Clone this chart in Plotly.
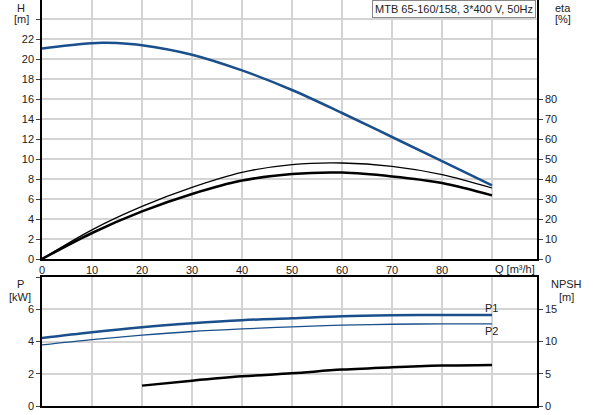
import plotly.graph_objects as go

# leituras da curva (Q em m3/h)
q = [0, 10, 20, 30, 40, 50, 60, 70, 80, 90]
q_h = [0, 5, 10, 12, 15, 20, 30, 40, 50, 60, 70, 80, 90]
h = [21.05, 21.35, 21.58, 21.62, 21.6, 21.38, 20.43, 18.86, 16.9, 14.6, 12.2, 9.78, 7.36]
eta1 = [0, 14.6, 26.3, 35.8, 43.3, 47.2, 48.0, 46.3, 42.2, 35.5]
eta2 = [0, 13.0, 23.8, 32.5, 39.2, 42.5, 43.2, 41.3, 38.0, 31.8]
p1 = [4.22, 4.58, 4.89, 5.13, 5.32, 5.44, 5.57, 5.63, 5.65, 5.65]
p2 = [3.79, 4.12, 4.39, 4.62, 4.78, 4.91, 5.01, 5.07, 5.09, 5.09]
q_npsh = [20, 30, 40, 50, 60, 70, 80, 90]
npsh = [3.16, 3.93, 4.6, 5.07, 5.64, 6.0, 6.26, 6.37]

blue = "#1a4f8b"
fonte = dict(family="Liberation Sans, Arial", size=11, color="#222")


def linha(x, y, cor, w, xa, ya):
    return go.Scatter(x=x, y=y, mode="lines", line=dict(color=cor, width=w, shape="spline"),
                      xaxis=xa, yaxis=ya, hoverinfo="skip")


fig = go.Figure()
fig.add_trace(linha(q_h, h, blue, 2.5, "x", "y"))
fig.add_trace(linha(q, eta1, "black", 1.3, "x", "y2"))
fig.add_trace(linha(q, eta2, "black", 2.5, "x", "y2"))
fig.add_trace(linha(q, p1, blue, 2.5, "x2", "y3"))
fig.add_trace(linha(q, p2, blue, 1.3, "x2", "y3"))
fig.add_trace(linha(q_npsh, npsh, "black", 2.5, "x2", "y4"))

L, R, T, B = 42, 537, 0, 406


def fx(px):
    return (px - L) / (R - L)


def fy(py):
    return (B - py) / (B - T)


grade = "#d4d4d4"
eixo_x = dict(range=[0, 99], tickvals=list(range(0, 100, 10)), showgrid=True, gridcolor=grade,
              gridwidth=1.5, zeroline=False, showline=True, linecolor="black", linewidth=1.5,
              tickfont=fonte, ticks="")

fig.update_layout(
    width=593, height=415,
    margin=dict(l=L, r=593 - R, t=T, b=415 - B, autoexpand=False),
    paper_bgcolor="white", plot_bgcolor="white",
    showlegend=False,
    font=fonte,
    xaxis=dict(eixo_x, domain=[0, 1], anchor="y",
               ticktext=[str(v) for v in range(0, 90, 10)] + ["", ""]),
    yaxis=dict(domain=[fy(259), 1], range=[0, 25.9], tickvals=list(range(0, 25, 2)),
               ticktext=[str(v) for v in range(0, 23, 2)] + [""],
               showgrid=True, gridcolor=grade, gridwidth=1.5, zeroline=False,
               showline=True, linecolor="black", linewidth=1.5, ticks="outside", ticklen=4,
               tickfont=fonte),
    yaxis2=dict(overlaying="y", side="right", anchor="x", range=[0, 129.5],
                tickvals=list(range(0, 90, 10)), showgrid=False, zeroline=False,
                showline=True, linecolor="black", linewidth=1.5, ticks="outside", ticklen=4,
                tickfont=fonte),
    xaxis2=dict(eixo_x, domain=[0, 1], anchor="y3", showticklabels=False, mirror=True),
    yaxis3=dict(domain=[0, fy(277)], range=[0, 8], tickvals=[0, 2, 4, 6, 8],
                ticktext=["0", "2", "4", "6", ""],
                showgrid=True, gridcolor=grade, gridwidth=1.5, zeroline=False,
                showline=True, linecolor="black", linewidth=1.5, ticks="outside", ticklen=4,
                tickfont=fonte),
    yaxis4=dict(overlaying="y3", side="right", anchor="x2", range=[0, 20],
                tickvals=[0, 5, 10, 15], showgrid=False, zeroline=False,
                showline=True, linecolor="black", linewidth=1.5, ticks="outside", ticklen=4,
                tickfont=fonte),
)

textos = [
    ("H", 21, 8), ("[m]", 21, 19), ("eta", 563, 8), ("[%]", 563, 19),
    ("P", 20, 284), ("[kW]", 20, 297), ("NPSH", 566, 284), ("[m]", 566, 297),
    ("P1", 491, 308), ("P2", 491, 331), ("Q [m³/h]", 515, 269),
]
for t, x, y in textos:
    fig.add_annotation(text=t, x=fx(x), y=fy(y), xref="paper", yref="paper",
                       showarrow=False, font=fonte, xanchor="center", yanchor="middle")

fig.add_annotation(text="MTB 65-160/158, 3*400 V, 50Hz", x=fx(536), y=1, xref="paper", yref="paper",
                   showarrow=False, font=fonte, xanchor="right", yanchor="top",
                   bgcolor="white", bordercolor="#888", borderwidth=1, borderpad=2)

# sem margem do body, para o gráfico ocupar a janela toda
fig.write_html("out.html", config={"displayModeBar": False},
               post_script="document.body.style.margin='0';")
